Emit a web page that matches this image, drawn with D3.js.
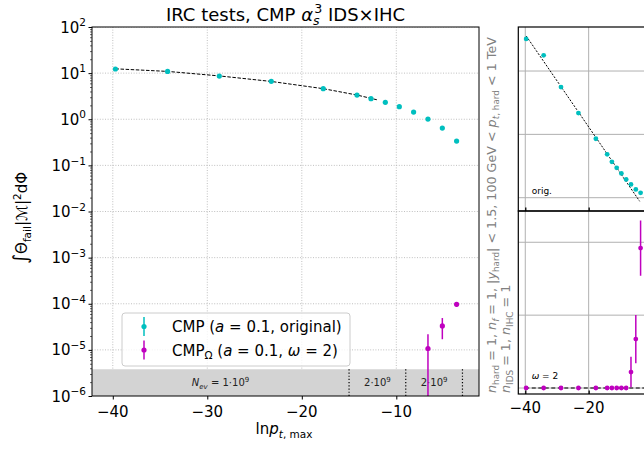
<!DOCTYPE html>
<html><head><meta charset="utf-8">
<script src="https://cdn.jsdelivr.net/npm/d3@7"></script>
<style>body{margin:0;background:#fff} svg{display:block;font-family:"DejaVu Sans",sans-serif} text{white-space:pre}</style>
</head><body><svg id="c" width="644" height="449"></svg>
<script>
// ---------- data ----------
const lnPtMax      = [-39.72, -34.2, -28.73, -23.23, -17.73, -14.16, -12.68, -11.16, -9.68, -8.17, -6.65, -5.13, -3.62];
const cmpOriginal  = [12.3, 10.9, 8.65, 6.64, 4.59, 3.35, 2.79, 2.33, 1.87, 1.43, 1.01, 0.644, 0.336];
const cmpOmega     = [0, 0, 0, 0, 0, 0, 0, 0, 0, 0, 1.07e-5, 3.3e-5, 9.7e-5];
const cmpOmegaErr  = [0, 0, 0, 0, 0, 0, 0, 0, 0, 0, 1.1e-5, 1.6e-5, 1.1e-5];
const fitLnPt      = [-39.72, -34.2, -28.73, -23.23, -17.73, -14.16, -11.9];
const fitOriginal  = [12.4, 10.9, 8.7, 6.6, 4.6, 3.35, 2.6];
const origPanel    = [3.506, 3.248, 2.747, 2.336, 1.931, 1.684, 1.567, 1.472, 1.384, 1.289, 1.210, 1.131, 1.077];
const origFitLnPt  = [-39.7, -3.9];
const origFitVal   = [3.553, 0.943];
const omegaPanel   = [0, 0, 0, 0, 0, 0, 0, 0, 0, 0, 0.219, 0.671, 1.92];
const omegaPanelErr= [0, 0, 0, 0, 0, 0, 0, 0, 0, 0, 0.21, 0.33, 0.38];
const bandEdges    = [-15, -9, -3];
const bandCenters  = [-28.6, -12, -6];
const bandTop      = 3.8e-6;
const xTicks       = [-40, -30, -20, -10];
const yExponents   = [-6, -5, -4, -3, -2, -1, 0, 1, 2];
const rightXTicks  = [-40, -20];
const upperGrid    = [1, 2, 3];
const lowerGrid    = [0, 1, 2];

const CY = "#00bfbf", MG = "#bf00bf";
const svg = d3.select("#c");

function rich(t, parts, size){
  let off = 0;
  parts.forEach(p => {
    const [s, f = "", dx = 0, scale = 1] = p;
    const target = f.includes("b") ? 0.24*size : f.includes("p") ? -0.42*size : 0;
    const ts = t.append("tspan").text(s).attr("dy", target - off);
    if (dx) ts.attr("dx", dx*size);
    off = target;
    if (f.includes("b") || f.includes("p")) ts.attr("font-size", 0.7*size);
    if (scale !== 1) ts.attr("font-size", scale*size);
    if (f.includes("i")) ts.attr("font-style", "italic");
  });
  return t;
}

// ---------- main panel ----------
const x = d3.scaleLinear().domain([-42.2, -1.25]).range([92, 479]);
const y = d3.scaleLog().domain([1e-6, 1e2]).range([396, 27]);
const yMaj = yExponents.map(e => Math.pow(10, e));
const yMin = [];
for (let e = -6; e < 2; e++) for (let k = 2; k < 10; k++) yMin.push(k*Math.pow(10, e));

svg.append("defs").append("clipPath").attr("id", "clipMain")
  .append("rect").attr("x", 92).attr("y", 27).attr("width", 387).attr("height", 369);
const gm = svg.append("g").attr("clip-path", "url(#clipMain)");

// grid
gm.selectAll(".gx").data(xTicks).join("line")
  .attr("x1", d => x(d)).attr("x2", d => x(d)).attr("y1", 27).attr("y2", 396)
  .attr("stroke", "#b0b0b0").attr("stroke-width", 0.8).attr("stroke-dasharray", "1,1.6");
gm.selectAll(".gy").data(yMaj).join("line")
  .attr("x1", 92).attr("x2", 479).attr("y1", d => y(d)).attr("y2", d => y(d))
  .attr("stroke", "#b0b0b0").attr("stroke-width", 0.8).attr("stroke-dasharray", "1,1.6");

// band
gm.append("rect").attr("x", 92).attr("width", 387)
  .attr("y", y(bandTop)).attr("height", y(1e-6) - y(bandTop)).attr("fill", "#d3d3d3");
gm.selectAll(".be").data(bandEdges).join("line")
  .attr("x1", d => x(d)).attr("x2", d => x(d)).attr("y1", y(bandTop)).attr("y2", y(1e-6))
  .attr("stroke", "#000").attr("stroke-width", 1.2).attr("stroke-dasharray", "1.2,2");
const bandY = (y(bandTop) + y(1e-6))/2 + 3.5;
rich(gm.append("text").attr("x", x(bandCenters[0])).attr("y", bandY).attr("text-anchor", "middle").attr("font-size", 10).attr("fill", "#222"),
  [["N", "i"], ["ev", "bi"], [" = 1·10"], ["9", "p"]], 10);
[1, 2].forEach(i => rich(gm.append("text").attr("x", x(bandCenters[i])).attr("y", bandY).attr("text-anchor", "middle").attr("font-size", 10).attr("fill", "#222"),
  [["2·10"], ["9", "p"]], 10));

// fit line
gm.append("path").datum(fitLnPt.map((v, i) => [v, fitOriginal[i]]))
  .attr("d", d3.line().x(d => x(d[0])).y(d => y(d[1])))
  .attr("fill", "none").attr("stroke", "#000").attr("stroke-width", 1).attr("stroke-dasharray", "3.5,1.6");

// cyan points
gm.selectAll(".pc").data(lnPtMax.map((v, i) => [v, cmpOriginal[i]])).join("circle")
  .attr("cx", d => x(d[0])).attr("cy", d => y(d[1])).attr("r", 2.6).attr("fill", CY);

// magenta points (positive only on log scale)
const mg = lnPtMax.map((v, i) => [v, cmpOmega[i], cmpOmegaErr[i]]).filter(d => d[1] > 0);
gm.selectAll(".em").data(mg).join("line")
  .attr("x1", d => x(d[0])).attr("x2", d => x(d[0]))
  .attr("y1", d => y(d[1] + d[2])).attr("y2", d => d[1] - d[2] > 0 ? y(d[1] - d[2]) : 500)
  .attr("stroke", MG).attr("stroke-width", 1.5);
gm.selectAll(".pm").data(mg).join("circle")
  .attr("cx", d => x(d[0])).attr("cy", d => y(d[1])).attr("r", 2.6).attr("fill", MG);

// axes
svg.append("g").attr("transform", "translate(0,396)")
  .call(d3.axisBottom(x).tickValues(xTicks).tickFormat("").tickSize(3.5).tickSizeOuter(0))
  .call(g => g.select(".domain").remove());
svg.selectAll(".xl").data(xTicks).join("text")
  .attr("x", d => x(d)).attr("y", 417).attr("text-anchor", "middle").attr("font-size", 15)
  .text(d => "\u2212" + Math.abs(d));
svg.append("g").attr("transform", "translate(92,0)")
  .call(d3.axisLeft(y).tickValues(yMaj).tickFormat("").tickSize(3.5).tickSizeOuter(0))
  .call(g => g.select(".domain").remove());
svg.append("g").attr("transform", "translate(92,0)")
  .call(d3.axisLeft(y).tickValues(yMin).tickFormat("").tickSize(2).tickSizeOuter(0))
  .call(g => g.select(".domain").remove())
  .call(g => g.selectAll("line").attr("stroke-width", 0.6));
yExponents.forEach(e => {
  rich(svg.append("text").attr("x", 86).attr("y", y(Math.pow(10, e)) + 5.5).attr("text-anchor", "end").attr("font-size", 15),
    [["10"], [e < 0 ? "\u2212" + Math.abs(e) : String(e), "p"]], 15);
});
svg.append("rect").attr("x", 92).attr("y", 27).attr("width", 387).attr("height", 369)
  .attr("fill", "none").attr("stroke", "#000").attr("stroke-width", 1);

// legend
const lg = svg.append("g");
lg.append("rect").attr("x", 122).attr("y", 313).attr("width", 228).attr("height", 53).attr("rx", 3)
  .attr("fill", "#fff").attr("fill-opacity", 0.8).attr("stroke", "#ccc");
[[326.5, CY], [350, MG]].forEach(([ly, c]) => {
  lg.append("line").attr("x1", 144).attr("x2", 144).attr("y1", ly - 9.5).attr("y2", ly + 9.5).attr("stroke", c).attr("stroke-width", 1.5);
  lg.append("circle").attr("cx", 144).attr("cy", ly).attr("r", 2.6).attr("fill", c);
});
rich(lg.append("text").attr("x", 172).attr("y", 332).attr("font-size", 15),
  [["CMP ("], ["a", "i"], [" = 0.1, original)"]], 15);
rich(lg.append("text").attr("x", 172).attr("y", 355.5).attr("font-size", 15),
  [["CMP"], ["Ω", "b"], [" ("], ["a", "i"], [" = 0.1, "], ["ω", "i"], [" = 2)"]], 15);

// titles
rich(svg.append("text").attr("x", 285.5).attr("y", 20.7).attr("text-anchor", "middle").attr("font-size", 18),
  [["IRC tests, CMP "], ["α", "i"], ["s", "bi"], ["3", "p", -0.3], [" IDS×IHC"]], 18);
rich(svg.append("text").attr("x", 284).attr("y", 434).attr("text-anchor", "middle").attr("font-size", 15),
  [["ln"], ["p", "i"], ["t", "bi"], [", max", "b"]], 15);
rich(svg.append("text").attr("transform", "translate(27,218) rotate(-90)").attr("text-anchor", "middle").attr("font-size", 15),
  [["∫", "", 0, 1.3], ["Θ"], ["fail", "b"], ["|ℳ|"], ["2", "p"], ["dΦ"]], 15);

// ---------- right panels ----------
const xR = d3.scaleLinear().domain([-42.2, -1.25]).range([518.3, 648.1]);
const yU = d3.scaleLinear().domain([0.79, 3.695]).range([211, 27]);
const yL = d3.scaleLinear().domain([-0.082, 2.429]).range([394, 211]);

const defs = svg.select("defs");
defs.append("clipPath").attr("id", "clipU").append("rect").attr("x", 518.3).attr("y", 27).attr("width", 130).attr("height", 184);
defs.append("clipPath").attr("id", "clipL").append("rect").attr("x", 518.3).attr("y", 211).attr("width", 130).attr("height", 183);

const gu = svg.append("g").attr("clip-path", "url(#clipU)");
gu.selectAll(".gv").data(rightXTicks).join("line")
  .attr("x1", d => xR(d)).attr("x2", d => xR(d)).attr("y1", 27).attr("y2", 211).attr("stroke", "#b0b0b0");
gu.selectAll(".gh").data(upperGrid).join("line")
  .attr("x1", 518.3).attr("x2", 648).attr("y1", d => yU(d)).attr("y2", d => yU(d)).attr("stroke", "#b0b0b0");
gu.append("path").datum(origFitLnPt.map((v, i) => [v, origFitVal[i]]))
  .attr("d", d3.line().x(d => xR(d[0])).y(d => yU(d[1])))
  .attr("fill", "none").attr("stroke", "#000").attr("stroke-width", 1).attr("stroke-dasharray", "2,1.5");
gu.selectAll(".pu").data(lnPtMax.map((v, i) => [v, origPanel[i]])).join("circle")
  .attr("cx", d => xR(d[0])).attr("cy", d => yU(d[1])).attr("r", 2.4).attr("fill", CY);
gu.append("text").attr("x", 531.7).attr("y", 194).attr("font-size", 9).text("orig.");

const gl = svg.append("g").attr("clip-path", "url(#clipL)");
gl.selectAll(".gv").data(rightXTicks).join("line")
  .attr("x1", d => xR(d)).attr("x2", d => xR(d)).attr("y1", 211).attr("y2", 394).attr("stroke", "#b0b0b0");
gl.selectAll(".gh").data(lowerGrid).join("line")
  .attr("x1", 518.3).attr("x2", 648).attr("y1", d => yL(d)).attr("y2", d => yL(d)).attr("stroke", "#b0b0b0");
gl.append("line").attr("x1", xR(-40)).attr("x2", 648).attr("y1", yL(0)).attr("y2", yL(0))
  .attr("stroke", "#444").attr("stroke-width", 1.5).attr("stroke-dasharray", "4,2.5");
const lp = lnPtMax.map((v, i) => [v, omegaPanel[i], omegaPanelErr[i]]);
gl.selectAll(".el").data(lp.filter(d => d[2] > 0)).join("line")
  .attr("x1", d => xR(d[0])).attr("x2", d => xR(d[0]))
  .attr("y1", d => yL(d[1] + d[2])).attr("y2", d => yL(d[1] - d[2]))
  .attr("stroke", MG).attr("stroke-width", 1.5);
gl.selectAll(".pl").data(lp).join("circle")
  .attr("cx", d => xR(d[0])).attr("cy", d => yL(d[1])).attr("r", 2.4).attr("fill", MG);
rich(gl.append("text").attr("x", 531.7).attr("y", 378.5).attr("font-size", 9),
  [["ω", "i"], [" = 2"]], 9);

// right frames & ticks
svg.append("rect").attr("x", 518.3).attr("y", 27).attr("width", 140).attr("height", 184)
  .attr("fill", "none").attr("stroke", "#000").attr("stroke-width", 1.2);
svg.append("rect").attr("x", 518.3).attr("y", 211).attr("width", 140).attr("height", 183)
  .attr("fill", "none").attr("stroke", "#000").attr("stroke-width", 1.2);
svg.append("g").attr("transform", "translate(0,211)")
  .call(d3.axisTop(xR).tickValues(rightXTicks).tickFormat("").tickSize(3.5).tickSizeOuter(0))
  .call(g => g.select(".domain").remove()).call(g => g.selectAll("line").attr("stroke-width", 1.3));
svg.append("g").attr("transform", "translate(0,394)")
  .call(d3.axisTop(xR).tickValues(rightXTicks).tickFormat("").tickSize(3.5).tickSizeOuter(0))
  .call(g => g.select(".domain").remove()).call(g => g.selectAll("line").attr("stroke-width", 1.3));
svg.selectAll(".rxl").data(rightXTicks).join("text")
  .attr("x", d => xR(d)).attr("y", 413).attr("text-anchor", "middle").attr("font-size", 15)
  .text(d => "\u2212" + Math.abs(d));

// rotated side note
const fs = 12.7;
rich(svg.append("text").attr("transform", "translate(495.5,393) rotate(-90)").attr("font-size", fs).attr("fill", "#808080"),
  [["n", "i"], ["hard", "b"], [" = 1, "], ["n", "i"], ["f", "bi"], [" = 1, |"], ["y", "i"], ["hard", "b"], ["| < 1.5, 100 GeV < "], ["p", "i"], ["t", "bi"], [", hard", "b"], [" < 1 TeV"]], fs);
rich(svg.append("text").attr("transform", "translate(510,393) rotate(-90)").attr("font-size", fs).attr("fill", "#808080"),
  [["n", "i"], ["IDS", "b"], [" = 1, "], ["n", "i"], ["IHC", "b"], [" = 1"]], fs);
</script></body></html>
